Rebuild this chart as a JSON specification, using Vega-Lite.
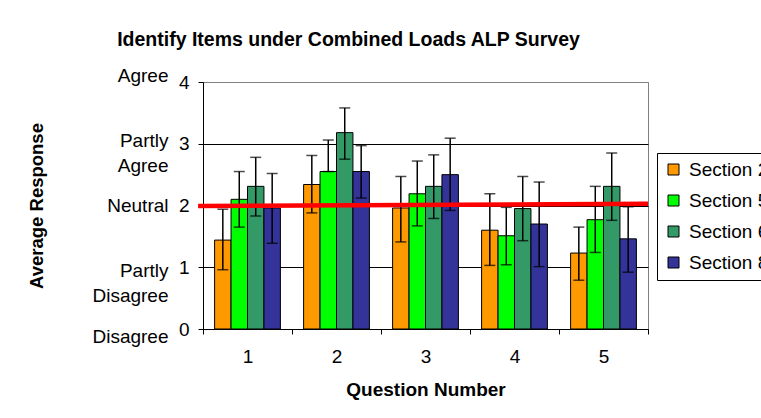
{
  "$schema": "https://vega.github.io/schema/vega-lite/v6.json",
  "width": 445,
  "height": 247,
  "autosize": {"type": "none"},
  "padding": {"left": 203, "top": 82, "right": 113, "bottom": 89},
  "background": "white",
  "title": {
    "text": "Identify Items under Combined Loads ALP Survey",
    "fontSize": 19.5,
    "fontWeight": "bold",
    "font": "Liberation Sans",
    "color": "black",
    "anchor": "middle",
    "dx": -77,
    "offset": 16
  },
  "config": {
    "font": "Liberation Sans",
    "view": {"stroke": "#808080", "strokeWidth": 1}
  },
  "datasets": {
    "bars": [
      {"q": "1", "section": "Section 2", "value": 1.44, "lo": 0.96, "hi": 1.94},
      {"q": "1", "section": "Section 5", "value": 2.10, "lo": 1.65, "hi": 2.55},
      {"q": "1", "section": "Section 6", "value": 2.31, "lo": 1.83, "hi": 2.78},
      {"q": "1", "section": "Section 8", "value": 1.96, "lo": 1.39, "hi": 2.52},
      {"q": "2", "section": "Section 2", "value": 2.34, "lo": 1.88, "hi": 2.81},
      {"q": "2", "section": "Section 5", "value": 2.55, "lo": 2.55, "hi": 3.06},
      {"q": "2", "section": "Section 6", "value": 3.18, "lo": 2.75, "hi": 3.58},
      {"q": "2", "section": "Section 8", "value": 2.55, "lo": 2.12, "hi": 2.97},
      {"q": "3", "section": "Section 2", "value": 1.96, "lo": 1.41, "hi": 2.47},
      {"q": "3", "section": "Section 5", "value": 2.19, "lo": 1.67, "hi": 2.72},
      {"q": "3", "section": "Section 6", "value": 2.31, "lo": 1.79, "hi": 2.82},
      {"q": "3", "section": "Section 8", "value": 2.50, "lo": 1.92, "hi": 3.09},
      {"q": "4", "section": "Section 2", "value": 1.60, "lo": 1.03, "hi": 2.19},
      {"q": "4", "section": "Section 5", "value": 1.51, "lo": 1.04, "hi": 1.97},
      {"q": "4", "section": "Section 6", "value": 1.95, "lo": 1.43, "hi": 2.47},
      {"q": "4", "section": "Section 8", "value": 1.70, "lo": 1.01, "hi": 2.38},
      {"q": "5", "section": "Section 2", "value": 1.23, "lo": 0.79, "hi": 1.65},
      {"q": "5", "section": "Section 5", "value": 1.77, "lo": 1.24, "hi": 2.31},
      {"q": "5", "section": "Section 6", "value": 2.31, "lo": 1.76, "hi": 2.85},
      {"q": "5", "section": "Section 8", "value": 1.46, "lo": 0.92, "hi": 1.98}
    ],
    "neutral": [
      {"p": -0.011, "v": 1.99},
      {"p": 1, "v": 2.03}
    ]
  },
  "layer": [
    {
      "data": {"name": "bars"},
      "mark": {"type": "bar", "stroke": "black", "strokeWidth": 1},
      "encoding": {
        "x": {
          "field": "q", "type": "nominal",
          "scale": {"paddingInner": 0, "paddingOuter": 0},
          "axis": {
            "title": "Question Number",
            "titleFontSize": 19,
            "titleFontWeight": "bold",
            "titleColor": "black",
            "titlePadding": 14,
            "labelAngle": 0,
            "labelFontSize": 19,
            "labelColor": "black",
            "labelPadding": 13,
            "tickBand": "extent",
            "tickSize": 5,
            "tickColor": "black",
            "domainColor": "black",
            "grid": false
          }
        },
        "xOffset": {
          "field": "section", "type": "nominal",
          "scale": {"paddingInner": 0, "paddingOuter": 0.705}
        },
        "y": {
          "field": "value", "type": "quantitative",
          "scale": {"domain": [0, 4], "nice": false, "zero": true},
          "axis": {
            "orient": "left",
            "title": null,
            "values": [0, 1, 2, 3, 4],
            "labelFontSize": 19,
            "labelColor": "black",
            "labelPadding": 9,
            "tickSize": 5,
            "tickColor": "black",
            "domainColor": "black",
            "grid": true,
            "gridColor": {"condition": {"test": "datum.value == 4", "value": "#808080"}, "value": "black"},
            "gridWidth": 1
          }
        },
        "color": {
          "field": "section", "type": "nominal",
          "scale": {
            "domain": ["Section 2", "Section 5", "Section 6", "Section 8"],
            "range": ["#FF9900", "#00FF00", "#339966", "#333399"]
          },
          "legend": {
            "title": null,
            "orient": "none",
            "legendX": 454,
            "legendY": 71,
            "padding": 7,
            "rowPadding": 11,
            "labelFontSize": 19,
            "labelColor": "black",
            "labelOffset": 6,
            "symbolType": "square",
            "symbolSize": 121,
            "symbolStrokeColor": "black",
            "symbolStrokeWidth": 1,
            "strokeColor": "black",
            "fillColor": "white"
          }
        }
      }
    },
    {
      "data": {"name": "bars"},
      "mark": {"type": "rule", "color": "black", "strokeWidth": 1.5},
      "encoding": {
        "x": {"field": "q", "type": "nominal", "scale": {"paddingInner": 0, "paddingOuter": 0}, "axis": null},
        "xOffset": {"field": "section", "type": "nominal", "scale": {"paddingInner": 0, "paddingOuter": 0.705}},
        "y": {"field": "lo", "type": "quantitative", "scale": {"domain": [0, 4], "nice": false}, "axis": null},
        "y2": {"field": "hi"}
      }
    },
    {
      "data": {"name": "bars"},
      "mark": {"type": "tick", "color": "black", "thickness": 1.5, "size": 11, "orient": "horizontal"},
      "encoding": {
        "x": {"field": "q", "type": "nominal", "scale": {"paddingInner": 0, "paddingOuter": 0}, "axis": null},
        "xOffset": {"field": "section", "type": "nominal", "scale": {"paddingInner": 0, "paddingOuter": 0.705}},
        "y": {
          "field": "lo", "type": "quantitative",
          "scale": {"domain": [0, 4], "nice": false},
          "axis": {
            "orient": "left",
            "title": "Average Response",
            "titleFontSize": 18.5,
            "titleFontWeight": "bold",
            "titleColor": "black",
            "titlePadding": 45,
            "values": [0, 1, 2, 3, 4],
            "labelExpr": "datum.value == 3 ? ['Partly', 'Agree'] : datum.value == 1 ? ['Partly', 'Disagree'] : datum.value == 4 ? 'Agree' : datum.value == 2 ? 'Neutral' : 'Disagree'",
            "labelFontSize": 19,
            "labelColor": "black",
            "labelLineHeight": 25,
            "labelPadding": 35,
            "labelOffset": {"condition": [
              {"test": "datum.value == 4", "value": -7},
              {"test": "datum.value == 3", "value": -3},
              {"test": "datum.value == 1", "value": 3},
              {"test": "datum.value == 0", "value": 7}
            ], "value": 0},
            "ticks": false,
            "tickSize": 0,
            "domain": false,
            "grid": false
          }
        }
      }
    },
    {
      "data": {"name": "bars"},
      "mark": {"type": "tick", "color": "black", "thickness": 1.5, "size": 11, "orient": "horizontal"},
      "encoding": {
        "x": {"field": "q", "type": "nominal", "scale": {"paddingInner": 0, "paddingOuter": 0}, "axis": null},
        "xOffset": {"field": "section", "type": "nominal", "scale": {"paddingInner": 0, "paddingOuter": 0.705}},
        "y": {"field": "hi", "type": "quantitative", "scale": {"domain": [0, 4], "nice": false}, "axis": null}
      }
    },
    {
      "data": {"name": "neutral"},
      "mark": {"type": "line", "color": "#FF0000", "strokeWidth": 4.5, "clip": false},
      "encoding": {
        "x": {"field": "p", "type": "quantitative", "scale": {"domain": [0, 1], "nice": false, "zero": false}, "axis": null},
        "y": {"field": "v", "type": "quantitative", "scale": {"domain": [0, 4], "nice": false}, "axis": null}
      }
    }
  ],
  "resolve": {"scale": {"x": "independent"}, "axis": {"y": "independent", "x": "independent"}}
}
